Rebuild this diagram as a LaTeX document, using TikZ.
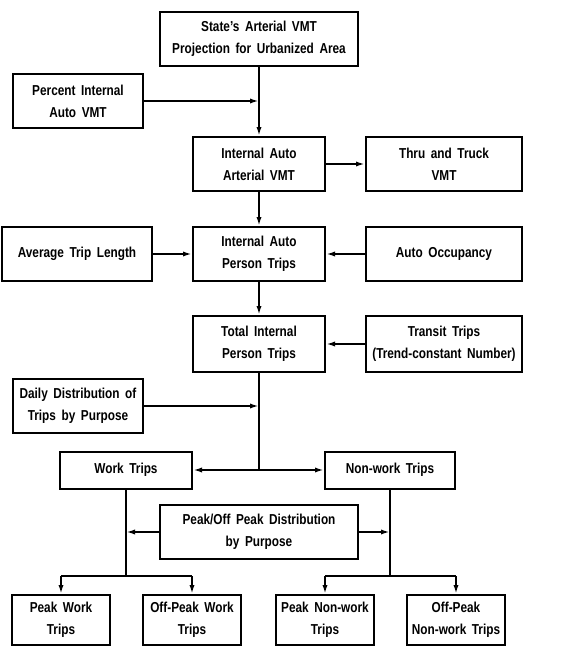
\documentclass[tikz,border=0pt]{standalone}
\usepackage{fontspec}
\setmainfont{Liberation Sans}[FakeStretch=0.82, WordSpace=1.7]
\usepackage{tikz}
\usetikzlibrary{arrows.meta, positioning}

\begin{document}
\begin{tikzpicture}[x=0.5pt, y=-0.5pt, font=\fontsize{7.2}{11}\selectfont\bfseries,
    box/.style={draw, line width=1pt, align=center, inner sep=1pt},
    flow/.style={line width=1pt, -{Latex[length=4.5pt, width=2.6pt]}},
    link/.style={line width=1pt}]
  \useasboundingbox (0,0) rectangle (568,648);

  % main spine
  \node[box, minimum width=99pt, minimum height=27pt] (state) at (259,39) {State's Arterial VMT\\Projection for Urbanized Area};
  \node[box, minimum width=65pt, minimum height=27pt] (pct) at (78,101) {Percent Internal\\Auto VMT};
  \node[box, minimum width=66pt, minimum height=27pt] (artvmt) at (259,164) {Internal Auto\\Arterial VMT};
  \node[box, minimum width=78pt, minimum height=27pt] (thru) at (444,164) {Thru and Truck\\VMT};

  \node[box, minimum width=66pt, minimum height=27pt] (person) at (259,254) {Internal Auto\\Person Trips};
  \node[box, minimum width=75pt, minimum height=27pt] (avglen) at (77,254) {Average Trip Length};
  \node[box, minimum width=78pt, minimum height=27pt] (occ) at (444,254) {Auto Occupancy};

  \node[box, minimum width=66pt, minimum height=28pt] (total) at (259,344) {Total Internal\\Person Trips};
  \node[box, minimum width=78pt, minimum height=28pt] (transit) at (444,344) {Transit Trips\\(Trend-constant Number)};
  \node[box, minimum width=65pt, minimum height=27pt] (daily) at (78,406) {Daily Distribution of\\Trips by Purpose};

  % purpose split
  \node[box, minimum width=66pt, minimum height=18.5pt] (work) at (126,470) {Work Trips};
  \node[box, minimum width=65pt, minimum height=18.5pt] (nonwork) at (390,470) {Non-work Trips};
  \node[box, minimum width=99pt, minimum height=27pt] (peakdist) at (259,532) {Peak/Off Peak Distribution\\by Purpose};

  \node[box, minimum width=49pt, minimum height=25pt] (pkwork) at (61,620) {Peak Work\\Trips};
  \node[box, minimum width=49pt, minimum height=25pt] (offwork) at (192,620) {Off-Peak Work\\Trips};
  \node[box, minimum width=49pt, minimum height=25pt] (pknon) at (325,620) {Peak Non-work\\Trips};
  \node[box, minimum width=49pt, minimum height=25pt] (offnon) at (456,620) {Off-Peak\\Non-work Trips};

  % junction points
  \coordinate (pctin) at (state.south |- pct.east);
  \coordinate (dailyin) at (total.south |- daily.east);
  \coordinate (split) at (total.south |- work.east);
  \coordinate (wfork) at (126,576);
  \coordinate (nfork) at (nonwork.south |- wfork);
  \coordinate (wpk) at (pkwork.north |- wfork);
  \coordinate (wop) at (offwork.north |- wfork);
  \coordinate (npk) at (pknon.north |- wfork);
  \coordinate (nop) at (offnon.north |- wfork);
  \coordinate (wmid) at (work.south |- peakdist.west);
  \coordinate (nmid) at (nonwork.south |- peakdist.east);

  \draw[flow] (state) -- (artvmt);
  \draw[flow] (pct) -- (pctin);
  \draw[flow] (artvmt) -- (thru);
  \draw[flow] (artvmt) -- (person);
  \draw[flow] (avglen) -- (person);
  \draw[flow] (occ) -- (person);
  \draw[flow] (person) -- (total);
  \draw[flow] (transit) -- (total);

  \draw[link] (total) -- (split);
  \draw[flow] (daily) -- (dailyin);
  \draw[flow] (split) -- (work);
  \draw[flow] (split) -- (nonwork);

  \draw[link] (work) -- (wfork);
  \draw[link] (nonwork) -- (nfork);
  \draw[flow] (peakdist) -- (wmid);
  \draw[flow] (peakdist) -- (nmid);

  \draw[link] (wpk) -- (wop);
  \draw[link] (npk) -- (nop);
  \draw[flow] (wpk) -- (pkwork);
  \draw[flow] (wop) -- (offwork);
  \draw[flow] (npk) -- (pknon);
  \draw[flow] (nop) -- (offnon);
\end{tikzpicture}
\end{document}
